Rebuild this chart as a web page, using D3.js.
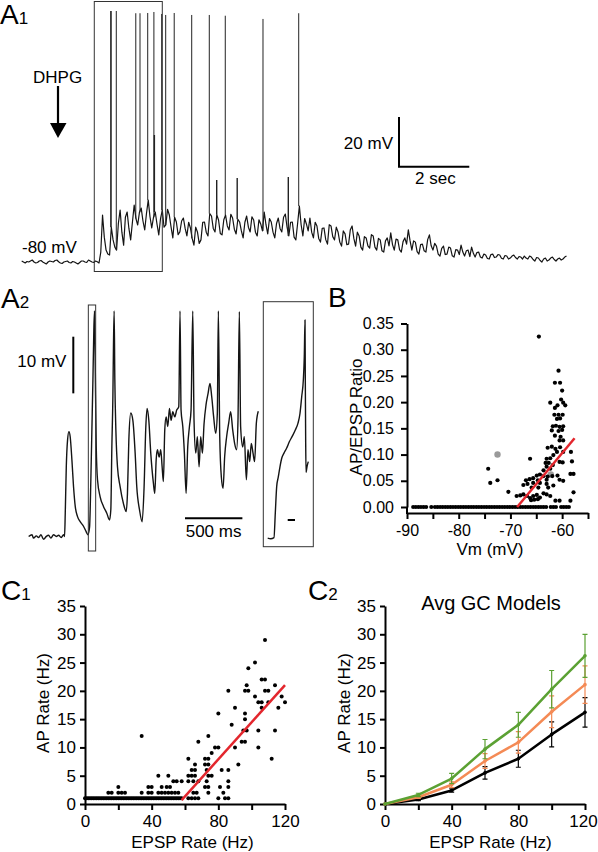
<!DOCTYPE html>
<html><head><meta charset="utf-8">
<script src="https://cdnjs.cloudflare.com/ajax/libs/d3/7.8.5/d3.min.js"></script>
<style>body{margin:0;background:#fff}svg{display:block;font-family:"Liberation Sans",Arial,Helvetica,sans-serif}</style>
</head><body><svg id="fig" width="598" height="852"></svg>
<script>
// ---------------- DATA ----------------
// A1: whole-cell trace, sampled every 0.05 s (mV)
const a1Dt = 0.05;
const a1Vm = [-79.6,-80.0,-80.4,-79.8,-80.0,-79.6,-79.2,-80.0,-80.4,-80.2,-79.6,-79.4,-80.0,-80.4,-80.8,-80.0,-79.6,-79.8,-80.0,-79.4,
-79.2,-79.9,-80.4,-80.6,-80.0,-79.8,-79.6,-80.2,-80.4,-79.8,-80.0,-80.4,-80.8,-80.2,-79.6,-79.6,-80.0,-80.2,-79.2,-79.6,
-80.0,-80.2,-79.6,-79.9,-80.4,-76.0,
-61.1,-70.0,-75.2,-76.8,-77.2,-66.0,-71.1,-74.0,-75.2,-64.5,-59.1,-68.0,-73.2,-62.0,-59.9,-66.5,-71.1,-64.0,-57.1,-62.5,
-65.1,-60.0,-58.3,-63.5,-67.1,-60.5,-55.1,-61.8,-66.3,-62.0,-59.9,-64.8,-69.1,-62.5,-59.1,-66.0,-65.1,-58.8,-61.1,-66.0,
-70.3,-62.0,-63.9,-69.0,-67.9,-63.5,-62.3,-66.5,-69.5,-64.0,-66.3,-70.5,-73.2,-66.0,-67.9,-72.5,-71.1,-64.0,-63.9,-68.0,
-69.5,-60.5,-61.5,-66.5,-67.9,-61.0,-63.1,-68.5,-69.1,-63.0,-61.1,-65.5,-67.1,-60.8,-62.3,-66.8,-68.7,-62.8,-63.9,-67.5,
-70.3,-64.0,-61.5,-66.0,-67.9,-61.8,-63.1,-68.0,-69.5,-63.0,-64.7,-67.5,-59.9,-65.0,-68.7,-62.5,-63.9,-68.0,-70.3,-64.5,
-62.3,-66.5,-67.9,-62.0,-60.7,-66.0,-69.5,-64.0,-63.9,-70.0,-71.1,-64.5,-57.5,-65.0,-69.5,-62.5,-64.7,-67.5,-62.3,-68.0,
-70.3,-64.0,-65.5,-70.5,-72.0,-66.5,-66.3,-71.0,-72.8,-65.0,-65.5,-69.8,-71.1,-66.0,-67.9,-72.0,-73.6,-67.5,-68.7,-73.0,
-72.8,-67.0,-65.5,-70.5,-73.6,-68.0,-69.5,-74.0,-75.2,-69.8,-70.3,-73.5,-74.4,-69.0,-69.5,-74.0,-75.2,-70.5,-71.1,-75.5,
-76.0,-71.5,-70.3,-73.5,-68.3,-73.0,-75.2,-70.8,-71.1,-75.0,-76.0,-71.8,-70.3,-72.8,-67.1,-71.5,-75.2,-71.5,-72.0,-75.8,
-76.8,-73.0,-72.8,-75.5,-76.0,-71.0,-69.1,-73.5,-75.2,-72.5,-73.6,-76.8,-77.6,-74.5,-73.6,-77.0,-76.8,-74.0,-74.4,-77.5,
-78.0,-75.0,-75.2,-77.0,-73.2,-76.0,-77.6,-75.5,-75.2,-77.8,-74.0,-76.5,-78.0,-76.2,-76.0,-78.0,-78.4,-76.8,-77.2,-78.6,
-78.8,-77.0,-76.8,-78.2,-78.0,-77.0,-77.2,-78.5,-78.8,-77.4,-77.6,-78.8,-78.4,-77.6,-77.2,-78.2,-78.8,-77.8,-78.0,-78.8,
-77.6,-78.4,-78.8,-77.6,-78.0,-79.0,-79.6,-78.2,-78.4,-79.4,-80.0,-78.8,-78.4,-79.6,-79.2,-78.4,-78.0,-79.0,-79.6,-78.8,
-78.4,-79.2,-78.8,-78.0,-77.6];
const a1SpikeTime = [2.532,2.546,2.691,3.246,3.366,3.585,3.761,3.983,4.097,4.339,4.837,5.337,5.792,6.865,7.881];
const a1SpikePeak = [21.0,21.0,21.0,20.1,20.1,20.2,20.6,19.8,19.4,20.2,19.4,19.4,19.1,17.8,20.1];
const a1PartialTime = [3.775,5.548,6.131,7.585];
const a1PartialPeak = [-28.9,-47.0,-46.2,-45.8];
const a1Window = [2.065, 4.0];   // s, segment expanded in A2

// A2: expanded segment (ms, mV)
const a2Time = [3,32,46,70,90,110,133,157,177,197,220,244,264,287,307,316,322,331,342,354,365,380,394,409,429,452,481,505,519,
534,545,554,563,571,577,583,592,603,626,655,684,708,719,728,737,742,748,754,763,777,800,829,853,864,876,893,911,931,945,969,992,
1009,1024,1035,1050,1067,1090,1102,1114,1125,1140,1154,1166,1177,1189,1201,1215,1230,1244,1259,1276,1293,1311,1322,1331,1346,1360,
1375,1389,1404,1418,1433,1444,1459,1473,1488,1502,1517,1531,1549,1566,1583,1598,1615,1633,1647,1656,1668,1682,1697,1711,1728,1746,
1763,1781,1798,1815,1827,1839,1850,1868,1882,1900,1914,1929,1943,1958,1972,1987,2004];
const a2Vm = [-79.9,-79.6,-80.2,-79.8,-80.1,-79.6,-80.4,-79.9,-79.7,-80.2,-79.6,-79.9,-79.7,-80.1,-79.6,-79.9,-75.8,-67.6,-62.9,-61.4,
-62.3,-66.4,-71.1,-74.6,-76.4,-77.3,-78.1,-79.1,-79.6,-78.2,-69.9,-61.1,-52.3,-43.5,-40.1,-49.4,-64.1,-69.9,-72.9,-74.6,-75.8,-77.0,
-75.2,-64.1,-55.2,-46.4,-40.1,-52.3,-61.1,-67.6,-71.1,-74.1,-75.5,-72.3,-62.9,-58.1,-59.4,-65.2,-71.1,-75.2,-77.3,-71.1,-60.5,-57.3,
-59.4,-65.2,-70.5,-72.3,-66.4,-64.6,-65.9,-64.6,-67.6,-70.2,-61.1,-58.8,-60.5,-57.3,-59.4,-57.9,-58.8,-57.6,-57.0,-40.1,-57.6,-60.5,
-65.2,-72.3,-64.1,-60.5,-57.6,-40.1,-59.4,-65.2,-62.3,-67.6,-62.3,-65.2,-60.1,-56.6,-54.7,-52.9,-55.2,-58.8,-61.7,-58.2,-40.1,-62.3,
-69.4,-71.4,-65.8,-62.3,-59.9,-57.9,-61.1,-63.5,-64.6,-59.4,-40.2,-60.5,-64.1,-62.3,-69.9,-64.6,-66.7,-63.5,-65.2,-66.7,-59.9,-57.8];
const a2Window = [523, 587];  // ms, first spike expanded in inset
const insetTime = [0,4.1,8.6,10.4,12.3,14.5,16.8,19.2,22.3,26.0,29.6,33.7,37.8,41.5,44.2,46.6,48.8,50.1,51.1,51.5,52.0,52.5,53.8,55.6];
const insetVm = [-80.2,-80.3,-80.1,-75.8,-71.1,-69.4,-67.6,-66.1,-65.2,-64.3,-63.2,-62.2,-61.1,-59.9,-58.2,-55.2,-52.3,-48.2,-41.7,-52.3,-62.9,-68.6,-67.6,-66.7];

// B: AP/EPSP ratio vs Vm
const bZeroVm = [-88.8,-88.3,-87.8,-87.3,-86.8,-86.3,-85.3,-84.6,-84.1,-83.6,-83.1,-82.6,-82.1,-81.6,-81.1,-80.6,-80.1,-79.6,-79.1,
-78.6,-78.1,-77.6,-77.1,-76.6,-76.1,-75.6,-75.1,-74.6,-74.1,-73.6,-73.1,-72.6,-72.1,-71.6,-71.1,-70.6,-70.1,-69.6,-69.1,-68.6,-68.1,
-67.6,-67.1,-66.6,-66.1,-65.6,-65.1,-64.6,-64.1,-63.6,-63.1,-62.2,-61.7,-61.2,-60.2,-59.7,-59.2,-58.7];
const bVm = [-64.5,-60.7,-61.4,-60.4,-60.0,-62.3,-60.2,-59.8,-59.4,-61.4,-60.9,-61.5,-60.7,-59.9,-61.0,-60.4,-61.8,-61.2,-60.5,-59.8,
-62.0,-60.7,-60.0,-61.4,-60.3,-59.8,-62.0,-62.8,-61.3,-60.4,-61.0,-59.8,-58.3,-66.2,-63.0,-62.3,-63.2,-62.6,-61.8,-60.5,
-59.9,-58.1,-63.0,-62.3,-64.9,-64.3,-63.6,-62.8,-61.9,-60.9,-58.4,-57.8,-67.0,-66.3,-65.6,-64.7,-63.0,-60.5,-59.8,-67.5,
-66.7,-65.6,-64.3,-63.0,-61.7,-70.4,-68.8,-68.1,-67.5,-66.8,-66.2,-65.6,-64.9,-64.3,-63.6,-63.0,-62.3,-66.0,-65.4,-64.7,
-61.3,-60.5,-58.4,-57.8,-74.3,-73.9,-72.5,-61.7,-63.6,-65.9,-64.6,-62.7,-60.5];
const bRatio = [0.325,0.260,0.237,0.237,0.222,0.199,0.205,0.199,0.194,0.189,0.194,0.176,0.176,0.176,0.168,0.169,0.154,0.155,0.153,0.154,
0.146,0.145,0.147,0.136,0.134,0.127,0.115,0.113,0.111,0.114,0.105,0.105,0.105,0.092,0.092,0.093,0.084,0.084,0.080,0.086,
0.085,0.087,0.077,0.073,0.060,0.062,0.059,0.058,0.059,0.060,0.063,0.063,0.051,0.053,0.055,0.051,0.052,0.052,0.050,0.042,
0.044,0.046,0.046,0.044,0.041,0.029,0.021,0.022,0.024,0.021,0.017,0.021,0.023,0.018,0.026,0.024,0.021,0.013,0.014,0.015,
0.012,0.012,0.012,0.028,0.073,0.046,0.051,0.099,0.070,0.037,0.037,0.037,0.127];
const bGrayVm = [-72.5,-62.2];
const bGrayRatio = [0.100,0.062];
const bFit = [[-68.7,0],[-57.6,0.131]];
const bXTicks = [-90,-85,-80,-75,-70,-65,-60,-55];
const bYTicks = [0,0.05,0.10,0.15,0.20,0.25,0.30,0.35];

// C1: AP rate vs EPSP rate
const c1FloorEpsp = [0,1,2,3,4,5,6,7,8,9,10,11,12,13,14,15,16,17,18,19,20,21,22,23,24,25,26,27,28,29,30,31,32,33,34,35,36,37,38,39,
40,41,42,43,44,45,46,47,48,49,50,51,52,53,54,55,56,57,58];
const c1Points = [[14,2],[16,2],[20,3],[20,2],[22,2],[24,2],[34,12],[34,2],[38,3],[40,3],[38,2],[40,2],[44,5],[44,2],[46,2],[48,2],
[50,2],[52,2],[54,2],[56,2],[46,3],[49,3],[51,3],[50,5],[53,4],[55,4],[58,4],[62,8],[62,5],[64,5],[66,5],[62,4],[65,4],[64,6],[66,6],
[66,7],[65,2],[67,2],[62,1],[64,1],[66,1],[68,1],[68,11],[68,4],[72,8],[74,8],[72,7],[74,7],[74,12],[73,6],[74,5],[76,5],[73,4],
[72,3],[74,3],[74,2],[76,9],[80,16],[80,1],[78,10],[80,10],[82,6],[81,3],[83,2],[86,20],[84,1],[86,1],[86,3],[86,4],[86,6],[88,14],
[90,17],[90,10],[92,7],[96,20],[98,20],[98,24],[96,16],[96,15],[94,11],[96,11],[95,13],[97,13],[97,21],[102,25],[102,19],[104,13],
[104,10],[104,18],[106,18],[106,22],[108,22],[108,29],[108,20],[110,20],[106,17],[110,18],[112,8],[114,21],[114,13],[116,17],
[118,19],[120,18]];
const c1Fit = [[58,0.7],[120,21]];
const cXTicks = [0,20,40,60,80,100,120];
const cYTicks = [0,5,10,15,20,25,30,35];

// C2: average GC models
const c2Epsp = [0,20,40,60,80,100,120];
const c2Green = [0,1.6,4.5,9.7,14.0,20.3,26.2];
const c2GreenErr = [0,0.3,0.9,1.7,2.2,3.3,3.8];
const c2Orange = [0,1.2,3.4,7.6,10.9,16.3,21.1];
const c2OrangeErr = [0,0.2,0.5,1.3,1.9,2.8,3.3];
const c2Black = [0,0.8,2.4,5.5,8.0,12.3,16.2];
const c2BlackErr = [0,0.2,0.3,1.1,1.5,2.2,2.6];

// ---------------- DRAWING ----------------
const svg = d3.select("#fig");
const FONT = '"Liberation Sans", Arial, Helvetica, sans-serif';
const RED = "#e3262d", GREEN = "#5ba133", ORANGE = "#f48a55", TRACE = "#141414";

function txt(x, y, s, size, anchor) {
  return svg.append("text").attr("x", x).attr("y", y).attr("font-size", size)
    .attr("text-anchor", anchor || "start").attr("fill", "#000").attr("font-family", FONT).text(s);
}
function panelLabel(x, y, main, sub) {
  const t = svg.append("text").attr("x", x).attr("y", y).attr("font-size", 28).attr("fill", "#000").attr("font-family", FONT);
  t.append("tspan").text(main);
  if (sub) t.append("tspan").attr("font-size", 17).text(sub);
}
function styleAxis(g, fs) {
  g.select(".domain").attr("stroke", "#000").attr("stroke-width", 2);
  g.selectAll(".tick line").attr("stroke", "#000").attr("stroke-width", 2);
  g.selectAll(".tick text").attr("font-size", fs).attr("fill", "#000").attr("font-family", FONT);
  g.attr("font-family", FONT);
  return g;
}

// ===== A1 =====
const a1x = d3.scaleLinear().domain([0, 15.5]).range([21.7, 566.5]);
const a1y = d3.scaleLinear().domain([-80, 21]).range([262, 11]);
const a1Data = a1Vm.map((v, i) => [i * a1Dt, v]);
svg.append("path").datum(a1Data).attr("fill", "none").attr("stroke", TRACE).attr("stroke-width", 1.2)
  .attr("stroke-linejoin", "round").attr("d", d3.line().x(d => a1x(d[0])).y(d => a1y(d[1])));
const spikeBase = t => a1Vm[Math.round(t / a1Dt)];
svg.append("g").selectAll("line").data(a1SpikeTime.map((t, i) => [t, a1SpikePeak[i]])).join("line")
  .attr("x1", d => a1x(d[0])).attr("x2", d => a1x(d[0]))
  .attr("y1", d => a1y(spikeBase(d[0]))).attr("y2", d => a1y(d[1]))
  .attr("stroke", "#222").attr("stroke-width", 1);
svg.append("g").selectAll("line").data(a1PartialTime.map((t, i) => [t, a1PartialPeak[i]])).join("line")
  .attr("x1", d => a1x(d[0])).attr("x2", d => a1x(d[0]))
  .attr("y1", d => a1y(spikeBase(d[0]))).attr("y2", d => a1y(d[1]))
  .attr("stroke", "#222").attr("stroke-width", 1.4);
// window box
svg.append("rect").attr("x", a1x(a1Window[0])).attr("y", 1.5).attr("width", a1x(a1Window[1]) - a1x(a1Window[0]))
  .attr("height", 270).attr("fill", "none").attr("stroke", "#333").attr("stroke-width", 1);
// scale bars
const sbX = 399, sbY = 166.7;
svg.append("path").attr("fill", "none").attr("stroke", "#000").attr("stroke-width", 2)
  .attr("d", `M${sbX},${sbY - (a1y(-80) - a1y(-60))}V${sbY}H${sbX + (a1x(2) - a1x(0))}`);
txt(393, 149, "20 mV", 17, "end");
txt(415, 184, "2 sec", 17);
// DHPG arrow
txt(33, 83, "DHPG", 17);
svg.append("line").attr("x1", 58).attr("x2", 58).attr("y1", 86).attr("y2", 126).attr("stroke", "#000").attr("stroke-width", 2.2);
svg.append("path").attr("d", "M50,123L66.5,123L58,138Z").attr("fill", "#000");
txt(22, 253, "-80 mV", 17);
panelLabel(0, 24, "A", "1");

// ===== A2 =====
const a2x = d3.scaleLinear().domain([0, 2004]).range([28.3, 258.3]);
const a2y = d3.scaleLinear().domain([-80, -40]).range([537, 310.4]);
svg.append("path").datum(a2Time.map((t, i) => [t, a2Vm[i]])).attr("fill", "none").attr("stroke", TRACE)
  .attr("stroke-width", 1.4).attr("stroke-linejoin", "round")
  .attr("d", d3.line().curve(d3.curveMonotoneX).x(d => a2x(d[0])).y(d => a2y(d[1])));
svg.append("rect").attr("x", a2x(a2Window[0])).attr("y", 305).attr("width", a2x(a2Window[1]) - a2x(a2Window[0]))
  .attr("height", 246).attr("fill", "none").attr("stroke", "#333").attr("stroke-width", 1);
// 10 mV bar
svg.append("line").attr("x1", 73.3).attr("x2", 73.3).attr("y1", 336.7).attr("y2", 336.7 + (a2y(-80) - a2y(-70)))
  .attr("stroke", "#000").attr("stroke-width", 2);
txt(17.3, 367, "10 mV", 17);
// 500 ms bar
svg.append("line").attr("x1", 185).attr("x2", 185 + (a2x(500) - a2x(0))).attr("y1", 518.3).attr("y2", 518.3)
  .attr("stroke", "#000").attr("stroke-width", 2);
txt(185.7, 536.7, "500 ms", 17);
// inset
const insx = d3.scaleLinear().domain([0, 55.6]).range([267.7, 308.3]);
svg.append("rect").attr("x", 263.3).attr("y", 301.7).attr("width", 50).attr("height", 245)
  .attr("fill", "none").attr("stroke", "#333").attr("stroke-width", 1);
svg.append("path").datum(insetTime.map((t, i) => [t, insetVm[i]])).attr("fill", "none").attr("stroke", TRACE)
  .attr("stroke-width", 1.4).attr("stroke-linejoin", "round")
  .attr("d", d3.line().curve(d3.curveMonotoneX).x(d => insx(d[0])).y(d => a2y(d[1])));
svg.append("line").attr("x1", insx(27.4)).attr("x2", insx(37.4)).attr("y1", 520).attr("y2", 520)
  .attr("stroke", "#000").attr("stroke-width", 2);
panelLabel(1, 308, "A", "2");

// ===== B =====
const bx = d3.scaleLinear().domain([-90, -55]).range([407, 588]);
const by = d3.scaleLinear().domain([0, 0.35]).range([507, 323.5]);
const bAxisY = 513;   // x axis drawn a little below zero level
styleAxis(svg.append("g").attr("transform", `translate(0,${bAxisY})`)
  .call(d3.axisBottom(bx).tickValues(bXTicks).tickFormat(d => d % 10 === 0 ? String(d) : "")
    .tickSize(6).tickPadding(6).tickSizeOuter(0)), 16);
styleAxis(svg.append("g").attr("transform", "translate(407,0)")
  .call(d3.axisLeft(by).tickValues(bYTicks).tickFormat(d3.format(".2f"))
    .tickSize(6).tickPadding(7).tickSizeOuter(0)), 16);
svg.append("line").attr("x1", 407).attr("x2", 407).attr("y1", by(0)).attr("y2", bAxisY + 1)
  .attr("stroke", "#000").attr("stroke-width", 2);
svg.append("g").selectAll("circle").data(bZeroVm).join("circle")
  .attr("cx", d => bx(d)).attr("cy", by(0)).attr("r", 2.1).attr("fill", "#000");
svg.append("g").selectAll("circle").data(bGrayVm.map((v, i) => [v, bGrayRatio[i]])).join("circle")
  .attr("cx", d => bx(d[0])).attr("cy", d => by(d[1])).attr("r", 3.2).attr("fill", "#9a9a9a");
svg.append("g").selectAll("circle").data(bVm.map((v, i) => [v, bRatio[i]])).join("circle")
  .attr("cx", d => bx(d[0])).attr("cy", d => by(d[1])).attr("r", 2.1).attr("fill", "#000");
svg.append("line").attr("x1", bx(bFit[0][0])).attr("y1", by(bFit[0][1])).attr("x2", bx(bFit[1][0])).attr("y2", by(bFit[1][1]))
  .attr("stroke", RED).attr("stroke-width", 2.5);
txt(490, 555, "Vm (mV)", 17, "middle");
svg.append("text").attr("transform", "translate(362,417) rotate(-90)").attr("text-anchor", "middle")
  .attr("font-size", 17).attr("font-family", FONT).attr("fill", "#000").text("AP/EPSP Ratio");
panelLabel(328, 307, "B");

// ===== C1 =====
const c1x = d3.scaleLinear().domain([0, 120]).range([85, 285]);
const cy = d3.scaleLinear().domain([0, 35]).range([804, 606]);
function cAxes(xs, x0) {
  const gx = styleAxis(svg.append("g").attr("transform", "translate(0,804)")
    .call(d3.axisBottom(xs).tickValues(cXTicks).tickFormat(d => d % 40 === 0 ? String(d) : "")
      .tickSize(6).tickPadding(5).tickSizeOuter(0)), 17);
  styleAxis(svg.append("g").attr("transform", `translate(${x0},0)`)
    .call(d3.axisLeft(cy).tickValues(cYTicks).tickFormat(d => String(d))
      .tickSize(5).tickPadding(4).tickSizeOuter(0)), 17);
  return gx;
}
svg.append("g").selectAll("circle").data(c1FloorEpsp).join("circle")
  .attr("cx", d => c1x(d)).attr("cy", cy(1)).attr("r", 2).attr("fill", "#000");
svg.append("g").selectAll("circle").data(c1Points).join("circle")
  .attr("cx", d => c1x(d[0])).attr("cy", d => cy(d[1])).attr("r", 2).attr("fill", "#000");
cAxes(c1x, 85);
svg.append("line").attr("x1", c1x(c1Fit[0][0])).attr("y1", cy(c1Fit[0][1])).attr("x2", c1x(c1Fit[1][0])).attr("y2", cy(c1Fit[1][1]))
  .attr("stroke", RED).attr("stroke-width", 2.5);
txt(192.5, 848, "EPSP Rate (Hz)", 17, "middle");
svg.append("text").attr("transform", "translate(49,703) rotate(-90)").attr("text-anchor", "middle")
  .attr("font-size", 17).attr("font-family", FONT).attr("fill", "#000").text("AP Rate (Hz)");
panelLabel(1, 600, "C", "1");

// ===== C2 =====
const c2x = d3.scaleLinear().domain([0, 120]).range([385, 585]);
const gx2 = cAxes(c2x, 385);
gx2.selectAll(".tick text").filter(d => d === 120).attr("dx", -2);
const series = [[c2Black, c2BlackErr, "#000"], [c2Orange, c2OrangeErr, ORANGE], [c2Green, c2GreenErr, GREEN]];
series.forEach(([vals, errs, col]) => {
  const g = svg.append("g");
  const pts = c2Epsp.map((e, i) => ({ e, v: vals[i], s: errs[i] }));
  g.selectAll("path.eb").data(pts.filter(p => p.s > 0)).join("path").attr("class", "eb")
    .attr("fill", "none").attr("stroke", col).attr("stroke-width", 1.2)
    .attr("d", p => {
      const X = c2x(p.e), y1 = cy(p.v - p.s), y2 = cy(p.v + p.s);
      return `M${X},${y1}V${y2}M${X - 2.5},${y1}H${X + 2.5}M${X - 2.5},${y2}H${X + 2.5}`;
    });
  g.append("path").datum(pts).attr("fill", "none").attr("stroke", col).attr("stroke-width", 2.5)
    .attr("stroke-linejoin", "round").attr("d", d3.line().x(p => c2x(p.e)).y(p => cy(p.v)));
  g.selectAll("circle").data(pts).join("circle").attr("cx", p => c2x(p.e)).attr("cy", p => cy(p.v))
    .attr("r", 1.8).attr("fill", col);
});
txt(491, 610, "Avg GC Models", 20, "middle");
txt(490.5, 848, "EPSP Rate (Hz)", 17, "middle");
svg.append("text").attr("transform", "translate(349.5,703) rotate(-90)").attr("text-anchor", "middle")
  .attr("font-size", 17).attr("font-family", FONT).attr("fill", "#000").text("AP Rate (Hz)");
panelLabel(308, 600, "C", "2");
</script></body></html>
